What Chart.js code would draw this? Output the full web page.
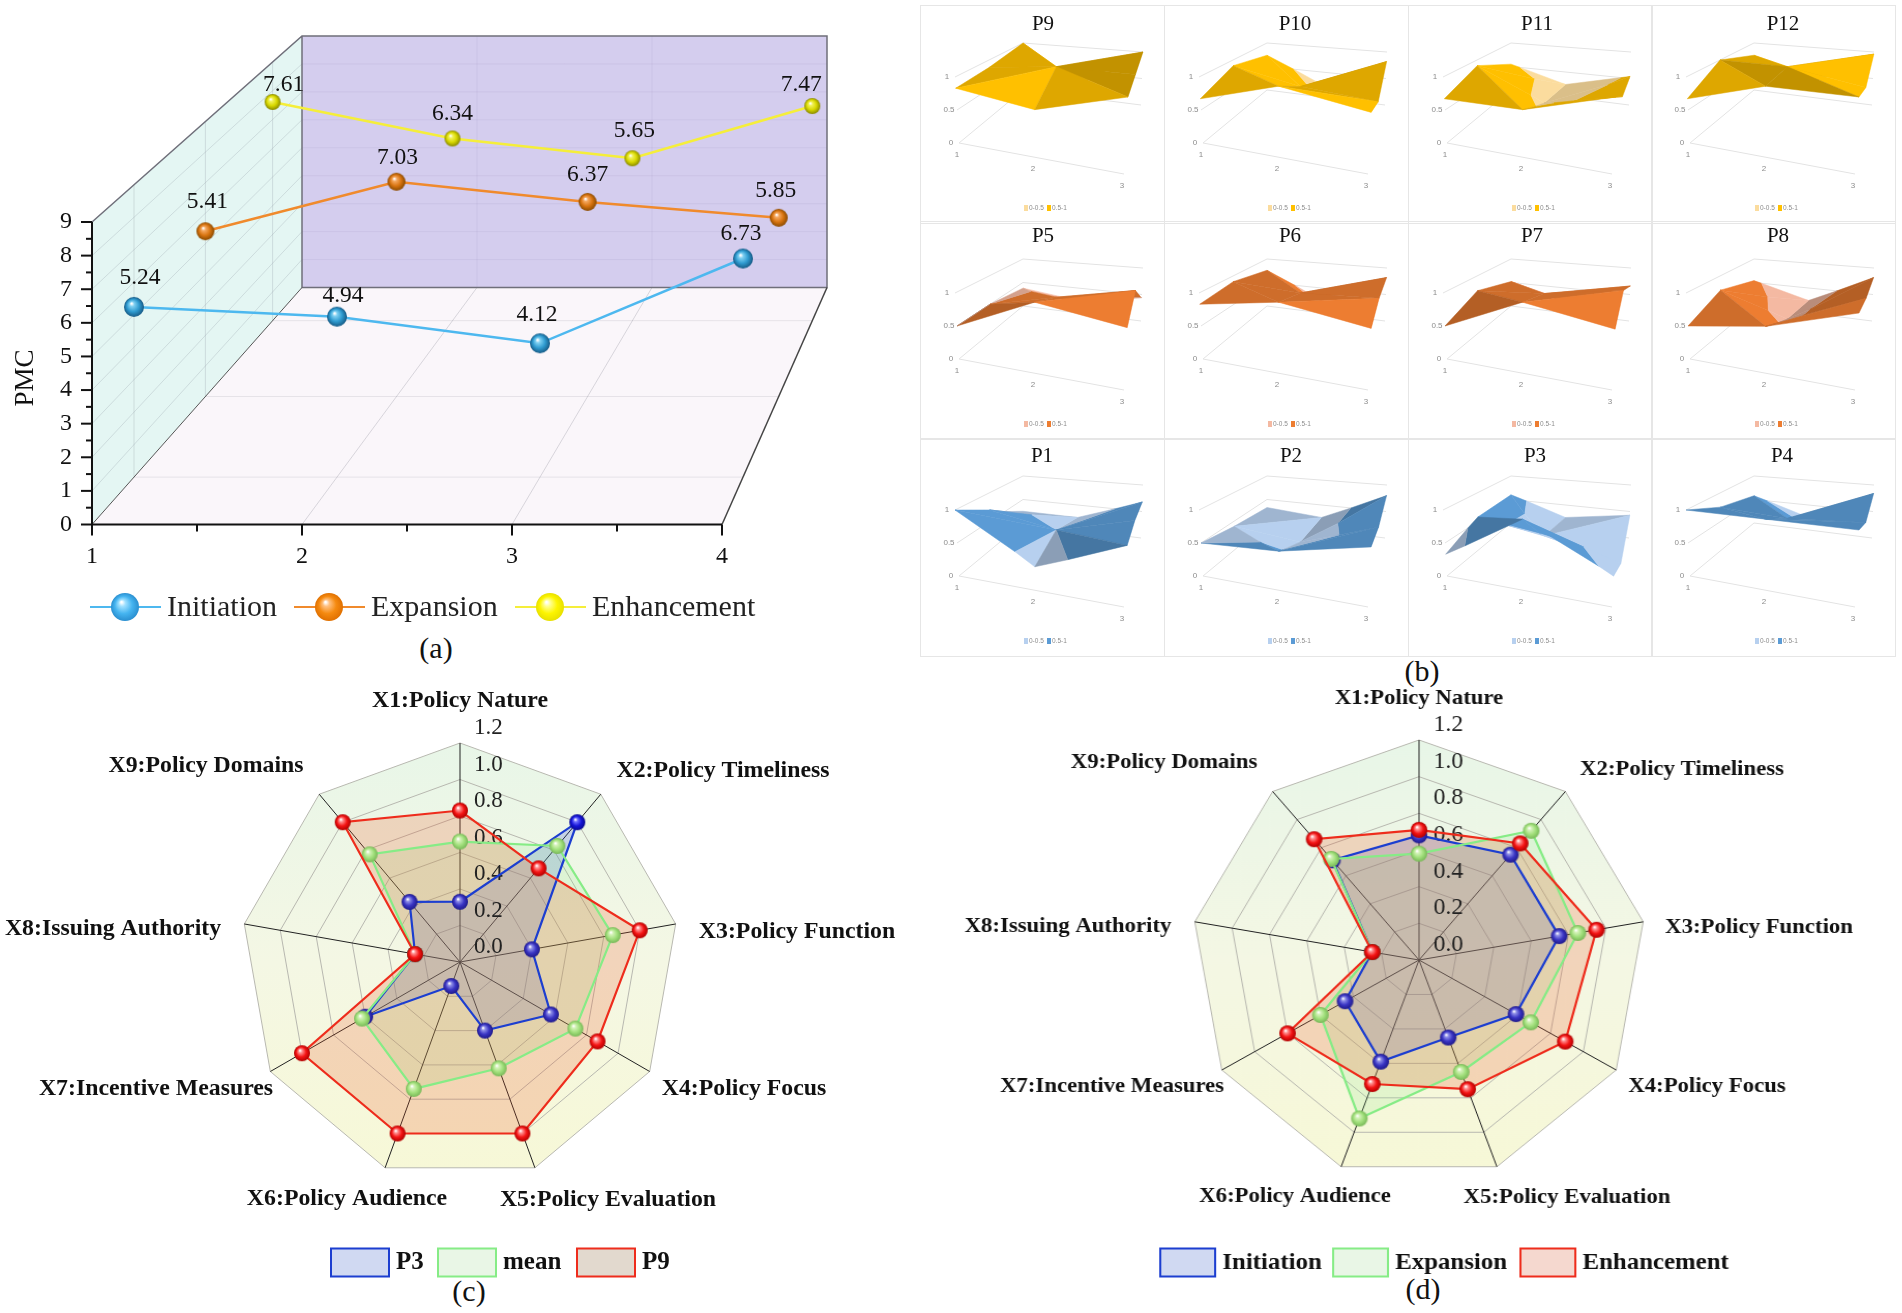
<!DOCTYPE html>
<html>
<head>
<meta charset="utf-8">
<title>PMC</title>
<script src="https://cdn.jsdelivr.net/npm/chart.js@4"></script>
<style>
  html, body { margin: 0; padding: 0; background: #fff; }
  #page { position: relative; width: 1902px; height: 1313px; overflow: hidden; background: #fff; }
  canvas { position: absolute; }
  .cell { outline: 1px solid #e6e6e6; }
  .caption { position: absolute; font: 30px 'Liberation Serif', serif; color: #111; transform: translate(-50%, -50%); }
</style>
</head>
<body>
<div id="page">
  <div class="caption" style="left:436px;top:648px">(a)</div>
  <div class="caption" style="left:1422px;top:671px">(b)</div>
  <div class="caption" style="left:469px;top:1291px">(c)</div>
  <div class="caption" style="left:1423px;top:1289px">(d)</div>
</div>
<script>
// ---- data ----
const stages = [1, 2, 3, 4];
const pmcTicks = [0, 1, 2, 3, 4, 5, 6, 7, 8, 9];
const initiationPmc = [5.24, 4.94, 4.12, 6.73];
const expansionPmc = [5.41, 7.03, 6.37, 5.85];
const enhancementPmc = [7.61, 6.34, 5.65, 7.47];

const policyDims = ['X1:Policy Nature', 'X2:Policy Timeliness', 'X3:Policy Function', 'X4:Policy Focus',
  'X5:Policy Evaluation', 'X6:Policy Audience', 'X7:Incentive Measures', 'X8:Issuing Authority', 'X9:Policy Domains'];
const p3Scores = [0.33, 1.0, 0.40, 0.575, 0.40, 0.14, 0.60, 0.25, 0.43];
const meanScores = [0.66, 0.83, 0.85, 0.73, 0.62, 0.74, 0.62, 0.25, 0.77];
const p9Scores = [0.83, 0.67, 1.0, 0.87, 1.0, 1.0, 1.0, 0.25, 1.0];
const initiationScores = [0.68, 0.75, 0.75, 0.59, 0.45, 0.59, 0.45, 0.25, 0.71];
const expansionScores = [0.58, 0.92, 0.85, 0.68, 0.65, 0.92, 0.60, 0.25, 0.72];
const enhancementScores = [0.71, 0.83, 0.95, 0.89, 0.75, 0.72, 0.80, 0.25, 0.86];

// PMC surfaces, rows front to back
const surfaceP1 = [[1, 0.33, 0.8], [0.7, 0.5, 0.8], [0.25, 0.25, 0.68]];
const surfaceP2 = [[0.5, 0.55, 0.78], [0.41, 0.3, 0.7], [0.33, 0.25, 0.8]];
const surfaceP3 = [[0.33, 1, 0.4], [0.575, 0.4, 0.14], [0.6, 0.25, 0.43]];
const surfaceP4 = [[1, 1, 1], [0.75, 0.69, 0.77], [0.58, 0.25, 0.84]];
const surfaceP5 = [[0.5, 1, 0.81], [0.5, 0.76, 1], [0.38, 0.25, 0.44]];
const surfaceP6 = [[0.83, 1, 0.8], [0.9, 0.83, 0.88], [0.76, 0.25, 0.82]];
const surfaceP7 = [[0.5, 1, 0.79], [0.74, 0.82, 1], [0.52, 0.25, 0.66]];
const surfaceP8 = [[0.5, 0.66, 1], [0.75, 0.4, 0.88], [0.54, 0.25, 0.82]];
const surfaceP9 = [[0.83, 0.67, 1], [0.87, 1, 1], [1, 0.25, 1]];
const surfaceP10 = [[0.67, 1, 0.8], [0.9, 0.67, 0.58], [0.74, 0.25, 0.82]];
const surfaceP11 = [[0.67, 0.67, 1], [0.9, 0.4, 0.66], [0.55, 0.25, 0.54]];
const surfaceP12 = [[0.67, 1, 1], [1, 1, 0.8], [0.74, 0.25, 0.96]];
const surfaceTicks = [0, 0.5, 1];
const surfaceCats = [1, 2, 3];

Chart.defaults.font.family = "'Liberation Serif', serif";
Chart.defaults.animation = false;
Chart.defaults.responsive = false;
Chart.defaults.plugins.legend.display = false;
Chart.defaults.plugins.tooltip.enabled = false;

const page = document.getElementById('page');

function addCanvas(left, top, w, h, cls) {
  const c = document.createElement('canvas');
  c.width = w; c.height = h;
  c.style.left = left + 'px';
  c.style.top = top + 'px';
  if (cls) c.className = cls;
  page.appendChild(c);
  return c;
}

// shiny sphere used as point marker
function makeBall(r, light, base, dark) {
  const c = document.createElement('canvas');
  c.width = c.height = r * 2 + 2;
  const g = c.getContext('2d');
  const m = r + 1;
  const grad = g.createRadialGradient(m - r * 0.25, m - r * 0.35, r * 0.05, m, m, r);
  grad.addColorStop(0, '#ffffff');
  grad.addColorStop(0.2, light);
  grad.addColorStop(0.6, base);
  grad.addColorStop(1, dark);
  g.fillStyle = grad;
  g.beginPath();
  g.arc(m, m, r, 0, Math.PI * 2);
  g.fill();
  return c;
}

// ---- (a) oblique 3D line chart ----
const PW = 900, PH = 660;
function depthPlane(t) {
  const left = 92 + 210 * t, width = 630 - 105 * t, bottom = 524.5 - 237 * t, height = 302.5 - 51 * t;
  return { left, right: left + width, bottom, top: bottom - height, width, height };
}
function project(x, y, t) {
  const p = depthPlane(t);
  return [p.left + (x - 1) / 3 * p.width, p.bottom - y / 9 * p.height];
}
function planePadding(t) {
  const p = depthPlane(t);
  return { left: p.left, top: p.top, right: PW - p.right, bottom: PH - p.bottom };
}
const seriesDepths = [0.2, 0.54, 0.86];

function poly(ctx, pts, fill, stroke, lw) {
  ctx.beginPath();
  pts.forEach((p, i) => i ? ctx.lineTo(p[0], p[1]) : ctx.moveTo(p[0], p[1]));
  if (fill) { ctx.closePath(); ctx.fillStyle = fill; ctx.fill(); }
  if (stroke) { ctx.strokeStyle = stroke; ctx.lineWidth = lw || 1; ctx.stroke(); }
}

const legendItemsA = [
  { name: 'Initiation', color: '#4db8ef', x: 90, ball: makeBall(14, '#9fe0ff', '#45b4f0', '#2a8fd0') },
  { name: 'Expansion', color: '#f08a2c', x: 294, ball: makeBall(14, '#ffc080', '#f58a10', '#e07000') },
  { name: 'Enhancement', color: '#f5ee3a', x: 515, ball: makeBall(14, '#ffff90', '#fdf500', '#e8e000') }
];

const wallsPlugin = {
  id: 'walls',
  beforeDatasetsDraw(chart) {
    const ctx = chart.ctx;
    const sx = chart.scales.x, sy = chart.scales.y;
    ctx.save();
    poly(ctx, [project(1, 0, 0), project(4, 0, 0), project(4, 0, 1), project(1, 0, 1)], '#faf6fa');
    poly(ctx, [project(1, 0, 0), project(1, 0, 1), project(1, 9, 1), project(1, 9, 0)], '#e4f6f3');
    poly(ctx, [project(1, 0, 1), project(4, 0, 1), project(4, 9, 1), project(1, 9, 1)], '#d4cdee');
    // wall grid
    pmcTicks.slice(1, -1).forEach(v => {
      poly(ctx, [project(1, v, 0), project(1, v, 1)], null, 'rgba(150,160,170,0.3)');
      poly(ctx, [project(1, v, 1), project(4, v, 1)], null, 'rgba(140,130,180,0.13)');
    });
    stages.slice(1, -1).forEach(s => {
      poly(ctx, [project(s, 0, 0), project(s, 0, 1)], null, 'rgba(150,150,160,0.35)');
      poly(ctx, [project(s, 0, 1), project(s, 9, 1)], null, 'rgba(140,130,180,0.13)');
    });
    seriesDepths.forEach(t => {
      poly(ctx, [project(1, 9, t), project(1, 0, t)], null, 'rgba(150,160,170,0.3)');
      poly(ctx, [project(1, 0, t), project(4, 0, t)], null, 'rgba(150,150,160,0.2)');
    });
    // frame
    poly(ctx, [project(1, 9, 0), project(1, 9, 1), project(4, 9, 1), project(4, 0, 1), project(1, 0, 1), project(1, 9, 1)], null, '#6f6f7a', 1.5);
    poly(ctx, [project(1, 0, 0), project(1, 0, 1)], null, '#555', 1);
    poly(ctx, [project(4, 0, 0), project(4, 0, 1)], null, '#444', 1.5);
    // axis lines and ticks
    const x0 = sx.getPixelForValue(1), y0 = sy.getPixelForValue(0);
    poly(ctx, [[x0, sy.getPixelForValue(9)], [x0, y0], [sx.getPixelForValue(4), y0]], null, '#111', 2);
    for (let v = 0; v <= 9; v += 0.5) {
      const y = sy.getPixelForValue(v), len = v % 1 === 0 ? 11 : 6;
      poly(ctx, [[x0 - len, y], [x0, y]], null, '#111', 2);
    }
    for (let s = 1; s <= 4; s += 0.5) {
      const x = sx.getPixelForValue(s), len = s % 1 === 0 ? 11 : 7;
      poly(ctx, [[x, y0], [x, y0 + len]], null, '#111', 2);
    }
    // tick labels
    ctx.fillStyle = '#111';
    ctx.font = "24px 'Liberation Serif'";
    ctx.textBaseline = 'middle';
    ctx.textAlign = 'right';
    pmcTicks.forEach(v => ctx.fillText(v, 72, sy.getPixelForValue(v)));
    ctx.textAlign = 'center';
    stages.forEach(s => ctx.fillText(s, sx.getPixelForValue(s), 557));
    ctx.save();
    ctx.translate(26, 378);
    ctx.rotate(-Math.PI / 2);
    ctx.font = "27px 'Liberation Serif'";
    ctx.fillText('PMC', 0, 0);
    ctx.restore();
    // legend
    ctx.font = "30px 'Liberation Serif'";
    ctx.textAlign = 'left';
    legendItemsA.forEach(it => {
      poly(ctx, [[it.x, 607], [it.x + 71, 607]], null, it.color, 2);
      ctx.drawImage(it.ball, it.x + 35 - 15, 607 - 15);
      ctx.fillStyle = '#222';
      ctx.fillText(it.name, it.x + 77, 608);
    });
    ctx.restore();
  }
};

new Chart(addCanvas(0, 0, PW, PH), {
  type: 'line',
  data: { datasets: [] },
  options: {
    layout: { padding: planePadding(0) },
    scales: {
      x: { type: 'linear', min: 1, max: 4, display: false },
      y: { min: 0, max: 9, display: false }
    }
  },
  plugins: [wallsPlugin]
});

const pointLabelsPlugin = {
  id: 'pointLabels',
  afterDatasetsDraw(chart, args, opts) {
    const ctx = chart.ctx;
    const meta = chart.getDatasetMeta(0);
    ctx.save();
    ctx.fillStyle = '#111';
    ctx.font = "23.5px 'Liberation Serif'";
    ctx.textAlign = 'center';
    ctx.textBaseline = 'middle';
    meta.data.forEach((pt, i) => {
      const nudge = opts.nudge[i];
      ctx.fillText(chart.data.datasets[0].data[i].y.toFixed(2), pt.x + nudge[0], pt.y + nudge[1]);
    });
    ctx.restore();
  }
};

function seriesChart(values, depth, color, ball, nudge) {
  return new Chart(addCanvas(0, 0, PW, PH), {
    type: 'line',
    data: {
      datasets: [{
        data: stages.map((s, i) => ({ x: s, y: values[i] })),
        borderColor: color,
        borderWidth: 2.5,
        pointStyle: ball,
        clip: false,
        tension: 0
      }]
    },
    options: {
      layout: { padding: planePadding(depth) },
      scales: {
        x: { type: 'linear', min: 1, max: 4, display: false },
        y: { min: 0, max: 9, display: false }
      },
      plugins: { pointLabels: { nudge } }
    },
    plugins: [pointLabelsPlugin]
  });
}
seriesChart(enhancementPmc, seriesDepths[2], '#f5ee3a', makeBall(8, '#f2f25a', '#d8d800', '#8a8a00'),
  [[11, -17], [0, -25], [2, -27], [-11, -21]]);
seriesChart(expansionPmc, seriesDepths[1], '#f08a2c', makeBall(9, '#f5a860', '#d87410', '#8a4a00'),
  [[2, -29], [1, -24], [0, -27], [-3, -27]]);
seriesChart(initiationPmc, seriesDepths[0], '#4db8ef', makeBall(10, '#7fd0f2', '#2f9bd0', '#175a85'),
  [[6, -29], [6, -21], [-3, -28], [-2, -25]]);

// ---- (b) PMC surfaces ----
const CELL_W = 243, CELL_H = 217;
const FLOOR = { fl: [38, 137], fr: [203, 168], bl: [102, 84], br: [220, 99] };
const ROOF = { fl: [34, 71], fr: [207, 91], bl: [102, 37], br: [222, 46] };
const colPos = [0, 0.46, 1];
const rowPos = [0, 0.5, 1];

function bilerp(c, u, v, k) {
  return (1 - v) * ((1 - u) * c.fl[k] + u * c.fr[k]) + v * ((1 - u) * c.bl[k] + u * c.br[k]);
}
function surfacePoint(u, v, z) {
  const fx = bilerp(FLOOR, u, v, 0), fy = bilerp(FLOOR, u, v, 1);
  return { x: fx + z * (bilerp(ROOF, u, v, 0) - fx), y: fy + z * (bilerp(ROOF, u, v, 1) - fy) };
}
// keep the part of a facet above or below the 0.5 band edge
function clipBand(tri, above) {
  const out = [];
  tri.forEach((a, i) => {
    const b = tri[(i + 1) % tri.length];
    const ain = above ? a.z >= 0.5 : a.z <= 0.5;
    const bin = above ? b.z >= 0.5 : b.z <= 0.5;
    if (ain) out.push(a);
    if (ain !== bin) {
      const f = (0.5 - a.z) / (b.z - a.z);
      out.push({ u: a.u + f * (b.u - a.u), v: a.v + f * (b.v - a.v), z: 0.5 });
    }
  });
  return out;
}
function shade(hex, k) {
  const n = parseInt(hex.slice(1), 16);
  return `rgb(${Math.round((n >> 16) * k)},${Math.round(((n >> 8) & 255) * k)},${Math.round((n & 255) * k)})`;
}
// three tones like the spreadsheet's lighting: falling to the right is bright, flat or steep is dark
function facetTone(t) {
  const [a, b, c] = t;
  const ux = b.u - a.u, uy = b.v - a.v, uz = b.z - a.z;
  const vx = c.u - a.u, vy = c.v - a.v, vz = c.z - a.z;
  const nx = uy * vz - uz * vy, ny = uz * vx - ux * vz, nz = ux * vy - uy * vx;
  const dzdu = -nx / nz, dzdv = -ny / nz;
  if (dzdu < -0.2) return 1;
  if (dzdu > 0.8) return 0.76;
  if (Math.abs(dzdu) < 0.12 && Math.abs(dzdv) < 0.12) return 0.76;
  return 0.87;
}
function surfaceDatasets(rows, pal) {
  const facets = [];
  for (let r = 0; r < 2; r++) {
    for (let c = 0; c < 2; c++) {
      const q = (i, j) => ({ u: colPos[j], v: rowPos[i], z: rows[i][j] });
      const a = q(r, c), b = q(r, c + 1), d = q(r + 1, c), e = q(r + 1, c + 1);
      // fold along the higher diagonal
      const tris = a.z + e.z >= b.z + d.z
        ? [[a, b, e], [a, e, d]] : [[a, b, d], [b, e, d]];
      facets.push(...tris);
    }
  }
  // far facets first
  const keyOf = t => t.reduce((sum, p) => sum + bilerp(FLOOR, p.u, p.v, 1), 0);
  facets.sort((p, q) => keyOf(p) - keyOf(q));
  const sets = [];
  const wall = z => [surfacePoint(0, 0, z), surfacePoint(0, 1, z), surfacePoint(1, 1, z)];
  [...surfaceTicks.map(wall), [surfacePoint(0, 0, 0), surfacePoint(1, 0, 0)]].forEach(line => {
    sets.push({ data: line, borderColor: '#e3e3e3', borderWidth: 1, fill: false });
  });
  facets.forEach(t => {
    const tone = facetTone(t);
    [[true, pal.high], [false, pal.low]].forEach(([above, color]) => {
      const part = clipBand(t, above);
      if (part.length < 3) return;
      const pts = part.map(p => surfacePoint(p.u, p.v, p.z));
      pts.push(pts[0]);
      const col = shade(color, tone);
      sets.push({ data: pts, borderColor: col, backgroundColor: col, borderWidth: 0.5, fill: 'shape' });
    });
  });
  sets.forEach((s, i) => { s.order = sets.length - i; s.pointRadius = 0; s.tension = 0; });
  return sets;
}
const cellTextPlugin = {
  id: 'cellText',
  afterDraw(chart, args, opts) {
    const ctx = chart.ctx;
    ctx.save();
    ctx.textAlign = 'center';
    ctx.textBaseline = 'middle';
    ctx.fillStyle = '#111';
    ctx.font = "21px 'Liberation Serif'";
    ctx.fillText(opts.title, opts.titleX, opts.titleY);
    ctx.fillStyle = '#8c8c8c';
    ctx.font = "8px 'Liberation Sans Narrow', 'Liberation Sans'";
    surfaceTicks.forEach(z => {
      const p = surfacePoint(0, 0, z);
      ctx.fillText(z, p.x - 8, p.y);
    });
    surfaceCats.forEach((c, i) => {
      const p = surfacePoint(colPos[i], 0, 0);
      ctx.fillText(c, p.x - 2, p.y + 12);
    });
    ctx.textAlign = 'left';
    ctx.font = "6.5px 'Liberation Sans Narrow', 'Liberation Sans'";
    ctx.fillStyle = opts.pal.low;
    ctx.fillRect(103, 199, 4, 6);
    ctx.fillStyle = opts.pal.high;
    ctx.fillRect(126, 199, 4, 6);
    ctx.fillStyle = '#8c8c8c';
    ctx.fillText('0-0.5', 108, 202);
    ctx.fillText('0.5-1', 131, 202);
    ctx.restore();
  }
};
const yellowPal = { high: '#ffc000', low: '#fbdc9e' };
const orangePal = { high: '#ed7d31', low: '#f4b9a2' };
const bluePal = { high: '#5b9bd5', low: '#b7d0ef' };
const cellX = [921, 1165, 1409, 1652];
const cellY = [6, 222, 439];
const cellRows = [
  [['P9', surfaceP9], ['P10', surfaceP10], ['P11', surfaceP11], ['P12', surfaceP12]],
  [['P5', surfaceP5], ['P6', surfaceP6], ['P7', surfaceP7], ['P8', surfaceP8]],
  [['P1', surfaceP1], ['P2', surfaceP2], ['P3', surfaceP3], ['P4', surfaceP4]]
];
const cellPals = [yellowPal, orangePal, bluePal];
const titleXs = [[122, 130, 128, 131], [122, 125, 123, 126], [121, 126, 126, 130]];
const titleYs = [18, 14, 17];
cellRows.forEach((row, r) => {
  row.forEach(([title, rows], c) => {
    new Chart(addCanvas(cellX[c], cellY[r], CELL_W, CELL_H, 'cell'), {
      type: 'line',
      data: { datasets: surfaceDatasets(rows, cellPals[r]) },
      options: {
        scales: {
          x: { type: 'linear', min: 0, max: CELL_W, display: false },
          y: { min: 0, max: CELL_H, reverse: true, display: false }
        },
        plugins: { cellText: { title, pal: cellPals[r], titleX: titleXs[r][c], titleY: titleYs[r] } }
      },
      plugins: [cellTextPlugin]
    });
  });
});

// ---- (c) (d) radar charts ----
const blueBall = makeBall(8, '#8f8fe8', '#3a35c4', '#1f1a8a');
const strongBlueBall = makeBall(8, '#7070ff', '#1414d8', '#0a0a90');
const greenBall = makeBall(8, '#d4f2b8', '#a2e07c', '#78b858');
const redBall = makeBall(8, '#ff9090', '#f41414', '#b00000');

const radarPlugin = {
  id: 'radarDress',
  beforeDraw(chart) {
    const r = chart.scales.r, ctx = chart.ctx;
    const pts = policyDims.map((d, i) => {
      const p = r.getPointPosition(i, r.drawingArea);
      return [p.x, p.y];
    });
    const grad = ctx.createLinearGradient(0, r.yCenter - r.drawingArea, 0, r.yCenter + r.drawingArea);
    grad.addColorStop(0, '#e8f6e8');
    grad.addColorStop(0.5, '#f4f7e4');
    grad.addColorStop(1, '#f7f8d6');
    poly(ctx, pts, grad);
  },
  beforeDatasetsDraw(chart, args, opts) {
    const r = chart.scales.r, ctx = chart.ctx;
    ctx.save();
    ctx.textBaseline = 'middle';
    ctx.textAlign = 'left';
    ctx.fillStyle = '#222';
    ctx.font = "23px 'Liberation Serif'";
    r.ticks.forEach(t => {
      const d = r.getDistanceFromCenterForValue(t.value);
      ctx.fillText(t.value.toFixed(1), r.xCenter + opts.tickGap, r.yCenter - d - 15);
    });
    ctx.restore();
  },
  afterDraw(chart, args, opts) {
    const r = chart.scales.r, ctx = chart.ctx;
    ctx.save();
    ctx.fillStyle = '#111';
    ctx.textBaseline = 'middle';
    ctx.textAlign = 'center';
    ctx.font = `bold ${opts.labelFont}px 'Liberation Serif'`;
    chart.data.labels.forEach((label, i) => {
      const o = opts.labelOffsets[i];
      ctx.fillText(label, r.xCenter + o[0] / opts.stretch, r.yCenter + o[1]);
    });
    ctx.font = `bold ${opts.legendFont}px 'Liberation Serif'`;
    ctx.textAlign = 'left';
    chart.data.datasets.forEach((ds, i) => {
      const x = opts.legendX[i], w = opts.legendW;
      ctx.fillStyle = opts.legendFill[i];
      ctx.fillRect(x, opts.legendY, w, 28);
      ctx.strokeStyle = ds.borderColor;
      ctx.lineWidth = 2;
      ctx.strokeRect(x, opts.legendY, w, 28);
      ctx.fillStyle = '#111';
      ctx.fillText(ds.label, x + w + 7, opts.legendY + 14);
    });
    ctx.restore();
  }
};

function radarSet(label, values, border, fill, ball, order) {
  return {
    label, data: values, order,
    borderColor: border, backgroundColor: fill, borderWidth: 2.2, fill: true,
    pointStyle: ball, clip: false
  };
}
function radarChart(canvas, cx, cy, radius, w, h, sets, dress) {
  return new Chart(canvas, {
    type: 'radar',
    data: { labels: policyDims, datasets: sets },
    options: {
      layout: { padding: { left: cx - radius, right: w - cx - radius, top: cy - radius, bottom: h - cy - radius } },
      scales: {
        r: {
          min: 0, max: 1.2,
          ticks: { stepSize: 0.2, display: false },
          grid: { color: '#b8b8b0', lineWidth: 1 },
          angleLines: { color: '#222', lineWidth: 1 },
          pointLabels: { display: false }
        }
      },
      plugins: { radarDress: dress, filler: { drawTime: 'beforeDatasetsDraw' } }
    },
    plugins: [radarPlugin]
  });
}

// only the spike of P3 stays outside the other fills and reads bright
const p3Balls = p3Scores.map(v => (v === Math.max(...p3Scores) ? strongBlueBall : blueBall));

radarChart(addCanvas(0, 680, 920, 633), 460, 282, 219, 920, 633, [
  radarSet('P3', p3Scores, '#1c3ed0', 'rgba(40,70,220,0.2)', p3Balls, 3),
  radarSet('mean', meanScores, '#86ec86', 'rgba(140,235,140,0.18)', greenBall, 2),
  radarSet('P9', p9Scores, '#ee2c1c', 'rgba(238,90,40,0.22)', redBall, 1)
], {
  tickGap: 14, stretch: 1, labelFont: 23.8, legendFont: 25,
  labelOffsets: [[0, -261], [263, -191], [337, -30], [284, 127], [148, 238], [-113, 237], [-304, 127], [-347, -33], [-254, -196]],
  legendX: [331, 438, 577], legendY: 568.5, legendW: 58,
  legendFill: ['#d0d9f2', '#e9f6e6', '#e2d9ce']
});

// the right radar is a little wider than tall
const WIDEN = 1.035;
const canvasD = addCanvas(948.5, 680, 940, 633);
canvasD.style.transform = `scaleX(${WIDEN})`;
canvasD.style.transformOrigin = '470px 0';
radarChart(canvasD, 470, 280, 220, 940, 633, [
  radarSet('Initiation', initiationScores, '#1c3ed0', 'rgba(40,70,220,0.2)', blueBall, 3),
  radarSet('Expansion', expansionScores, '#86ec86', 'rgba(140,235,140,0.18)', greenBall, 2),
  radarSet('Enhancement', enhancementScores, '#ee2c1c', 'rgba(238,90,40,0.22)', redBall, 1)
], {
  tickGap: 14, stretch: WIDEN, labelFont: 22, legendFont: 24,
  labelOffsets: [[0, -262], [263, -191], [340, -33], [288, 126], [148, 237], [-124, 236], [-307, 126], [-351, -34], [-255, -198]],
  legendX: [220, 387, 568], legendY: 568.5, legendW: 53,
  legendFill: ['#d0d9f2', '#e9f6e6', '#f5d8cf']
});
</script>
</body>
</html>
